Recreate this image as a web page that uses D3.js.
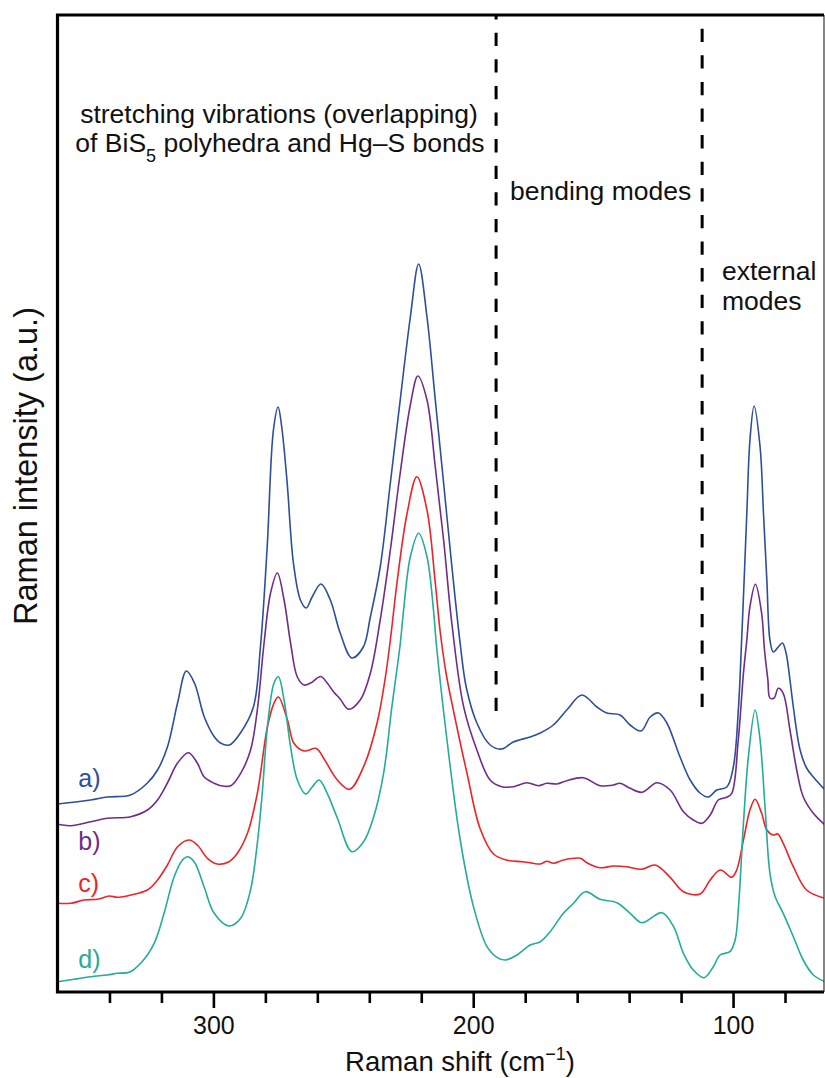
<!DOCTYPE html>
<html>
<head>
<meta charset="utf-8">
<script src="https://cdn.jsdelivr.net/npm/d3@7"></script>
<style>
  body { margin: 0; background: #fff; }
  svg { display: block; font-family: "Liberation Sans", Arial, Helvetica, sans-serif; }
</style>
</head>
<body>
<div id="chart"></div>
<script>
// Raman spectra a)-d): [wavenumber cm-1, intensity a.u.]
const spectrumA = [
  [360,188],[347.3,192],[340.8,195],[331.9,197],[325.4,209],[321.5,222],[317.7,245],[313.8,289],
  [310.4,321],[307.3,309],[303.5,275],[299.6,255],[297.3,249],[293.8,247],[289.6,259],[284.6,285],
  [281.9,345],[279.3,445],[276.9,562],[275.1,585],[273.8,567],[271.7,512],[269.2,429],[266.5,392],
  [264.3,384],[262.0,395],[258.6,408],[255.0,392],[251.2,359],[246.7,334],[242.3,345],[239.6,375],
  [235.8,425],[231.9,509],[228.1,592],[224.2,675],[221.0,728],[217.8,675],[214.6,592],[211.4,509],
  [208.2,425],[205.0,348],[202.7,305],[198.6,269],[193.5,247],[189.0,243],[184.6,250],[178.1,255],
  [174.2,259],[169.2,267],[164.0,282],[158.2,297],[152.4,285],[148.6,279],[143.5,277],[139.6,267],
  [135.4,261],[131.9,275],[128.7,279],[125.5,269],[120.4,235],[116.5,212],[112.7,199],[109.5,195],
  [106.3,202],[102.4,205],[99.9,225],[97.9,285],[96.7,352],[96.0,395],[94.7,479],[93.5,552],
  [91.9,586],[89.6,545],[88.3,479],[87.0,412],[85.8,352],[84.5,340],[82.6,345],[81.0,349],
  [79.6,339],[78.1,312],[76.8,285],[74.2,242],[71.7,224],[69.1,215],[64.6,202]
]
const spectrumB = [
  [360,167.7],[354.9,166.3],[347.2,170.3],[340.8,173.7],[331.8,175.3],[325.4,182],[321.5,192],[317.7,209],
  [313.8,229],[309.6,239.3],[306.2,229],[303.6,215.3],[299.7,208.7],[297.2,206.3],[293.3,206.3],[289.5,218.7],
  [285.7,242],[283.1,282],[280.5,349],[278.0,399],[275.4,419],[272.8,392],[270.3,349],[267.7,315],
  [265.1,307],[262.6,309],[258.7,315.5],[256.2,309],[253.7,300],[251.2,293],[248.0,282.7],[243.5,292],
  [239.6,318.7],[235.8,372],[231.9,442],[228.1,519],[224.2,587],[221.3,616],[217.8,592],[214.6,525],
  [211.4,452],[208.2,368],[203.7,285.3],[198.6,242],[193.5,212],[189.0,205.3],[184.5,205.3],[179.3,209.3],
  [174.9,206.3],[171.7,208.7],[167.8,208],[164.0,211.3],[157.6,214.3],[151.2,206.3],[146.0,207],[143.5,208.7],
  [139.6,203.7],[135.1,199.7],[129.3,209.3],[124.2,202],[119.1,180.3],[115.3,172],[112.0,168.7],[108.8,177],
  [105.7,192],[102.5,194.7],[100.5,198.7],[98.0,252],[96.0,318.7],[94.7,352],[93.5,385.3],[91.4,407.7],
  [89.0,378.7],[87.9,342],[86.6,312],[85.8,294],[84.2,294],[82.6,303.7],[80.7,298.7],[78.1,262],
  [75.5,222],[73.0,195.3],[69.1,178.7],[64.6,167]
]
const spectrumC = [
  [360,88.7],[354.9,88.7],[349.7,92],[344.6,92.7],[340.1,96],[336.9,94.7],[331.8,97],[325.4,102],
  [321.5,112],[317.7,127],[313.8,145.3],[309.3,152],[306.2,147],[302.3,133.7],[298.5,128],[294.0,130.3],
  [290.8,138.7],[286.9,158.7],[283.1,198.7],[279.2,265.3],[276.7,288.7],[275.0,295],[271.5,272],[269.0,248.7],
  [265.1,241],[260.4,243.5],[257.4,233],[252.3,212],[247.6,202.7],[242.2,225.3],[237.0,269],[233.8,315],
  [231.9,352],[229.3,410],[225.5,478],[221.7,515.3],[217.8,482],[214.6,409],[212.7,360],[210.4,318],
  [207.5,280],[202.4,218.7],[197.3,163],[192.2,138],[187.0,131.7],[180.7,130.3],[174.2,128],[171.7,130.7],
  [169.1,128.7],[165.3,132],[158.8,133.7],[156.3,129.3],[151.2,124.3],[146.0,126],[140.9,125.3],[135.1,122.7],
  [130.0,127],[124.2,114.7],[119.1,100.3],[112.7,98],[108.8,112],[104.9,122],[100.5,114.7],[98.6,122],
  [96.0,152],[93.5,182],[91.5,192.7],[89.0,178.7],[87.0,162],[84.5,157],[82.8,158],[80.7,148.7],
  [76.8,125.3],[71.7,102],[64.6,93.7]
]
const spectrumD = [
  [360,10.3],[353.6,12.7],[347.2,15.3],[340.8,17],[336.9,18.7],[332.4,19.7],[328.0,28.7],[322.8,48.7],
  [319.0,78.7],[315.1,115.3],[311.9,132],[310.0,135.3],[307.4,130.3],[303.6,105.3],[299.7,78.7],[294.0,66],
  [289.5,73.7],[285.7,102],[283.1,148.7],[281.2,198.7],[279.2,265.3],[276.7,308.7],[275.0,315.3],[272.8,292],
  [270.3,245.3],[267.7,212],[264.5,198],[261.9,205.3],[259.3,212],[256.2,198.7],[252.3,174],[246.7,140.3],
  [242.2,150.3],[238.3,175.3],[234.5,218.7],[231.3,285.3],[228.1,348],[226.8,382],[224.2,435.3],[221.0,458.7],
  [217.8,435.3],[215.3,382],[214.2,348],[210.1,252],[205.0,152],[199.9,85.3],[194.7,45.3],[190.9,34.7],
  [187.7,32],[183.2,37],[178.1,47],[174.2,50.3],[170.4,60.3],[165.3,78.7],[161.4,88.7],[156.9,100.3],
  [151.2,92.7],[144.7,89.3],[139.6,78.7],[135.1,69.3],[127.4,79.3],[122.9,65.3],[119.1,38.7],[115.3,22],
  [111.2,14.3],[107.6,25.3],[105.0,37],[101.2,40.3],[99.2,52],[97.9,85.3],[96.0,168.7],[94.1,235.3],
  [91.5,282],[89.6,252],[87.7,185.3],[85.8,118.7],[83.8,95.3],[80.7,78.7],[76.8,55.3],[73.0,32],
  [69.1,17],[64.6,10.3]
]

const seriesNames = ['a)', 'b)', 'c)', 'd)']
const seriesColors = ['#2d4e9e', '#6f2c88', '#ec2327', '#22ad98']

// region borders (cm-1) and the intensity where each dashed line stops
const dividerShift = [191.2, 111.9]
const dividerEnd = [281, 285]

const majorTicks = [300, 200, 100]
const minorTicks = [340, 320, 280, 260, 240, 220, 180, 160, 140, 120, 80]

const W = 825, H = 1078
const margin = { top: 15, right: 1, bottom: 86, left: 57.5 }
const plotW = W - margin.left - margin.right
const plotH = H - margin.top - margin.bottom

const svg = d3.select('#chart')
  .append('svg')
    .attr('width', W)
    .attr('height', H)

const x = d3.scaleLinear()
  .domain([360, 65])
  .range([margin.left, margin.left + plotW])

const y = d3.scaleLinear()
  .domain([0, 977])
  .range([margin.top + plotH, margin.top])

svg.append('clipPath')
    .attr('id', 'plotClip')
  .append('rect')
    .attr('x', margin.left)
    .attr('y', margin.top)
    .attr('width', plotW)
    .attr('height', plotH)

const line = d3.line()
  .x(d => x(d[0]))
  .y(d => y(d[1]))
  .curve(d3.curveCatmullRom.alpha(0.5))

const spectra = [spectrumA, spectrumB, spectrumC, spectrumD]

svg.append('g')
    .attr('clip-path', 'url(#plotClip)')
  .selectAll('path.spectrum')
  .data(spectra)
  .enter()
  .append('path')
    .attr('class', 'spectrum')
    .attr('d', line)
    .style('fill', 'none')
    .style('stroke', (d, i) => seriesColors[i])
    .style('stroke-width', 1.6)

// dashed region borders, drawn bottom-up so the dash phase matches
svg.selectAll('line.divider')
  .data(dividerShift)
  .enter()
  .append('line')
    .attr('class', 'divider')
    .attr('x1', d => x(d))
    .attr('x2', d => x(d))
    .attr('y1', (d, i) => y(dividerEnd[i]))
    .attr('y2', margin.top)
    .style('stroke', '#000')
    .style('stroke-width', 3)
    .style('stroke-dasharray', '13.3,13.3')

// frame
const bottomY = margin.top + plotH
svg.append('line')
  .attr('x1', margin.left + plotW).attr('x2', margin.left + plotW)
  .attr('y1', margin.top).attr('y2', bottomY)
  .style('stroke', '#333').style('stroke-width', 1.2)
svg.append('path')
  .attr('d', `M${margin.left + plotW},${margin.top}H${margin.left}V${bottomY}H${margin.left + plotW}`)
  .style('fill', 'none')
  .style('stroke', '#000')
  .style('stroke-width', 3.2)

// x axis ticks
const minorAxis = d3.axisBottom(x)
  .tickValues(minorTicks)
  .tickSize(11)
  .tickFormat('')
const majorAxis = d3.axisBottom(x)
  .tickValues(majorTicks)
  .tickSize(16)
  .tickPadding(8)
  .tickFormat(d3.format('d'))

svg.append('g')
    .attr('transform', `translate(0, ${bottomY})`)
    .call(minorAxis)
    .call(g => g.select('.domain').remove())
    .call(g => g.selectAll('line').style('stroke', '#000').style('stroke-width', 2.6))

svg.append('g')
    .attr('transform', `translate(0, ${bottomY})`)
    .call(majorAxis)
    .call(g => g.select('.domain').remove())
    .call(g => g.selectAll('line').style('stroke', '#000').style('stroke-width', 2.6))
    .call(g => g.selectAll('text')
      .style('font-family', '"Liberation Sans", Arial, sans-serif')
      .style('font-size', '25px')
      .style('fill', '#111'))

// axis titles
const xTitle = svg.append('text')
  .attr('x', 460)
  .attr('y', 1071)
  .attr('text-anchor', 'middle')
  .style('font-size', '27.5px')
  .style('fill', '#111')
xTitle.append('tspan').text('Raman shift (cm')
xTitle.append('tspan').text('\u22121').attr('dy', -11).style('font-size', '18px')
xTitle.append('tspan').text(')').attr('dy', 11)

svg.append('text')
  .attr('transform', 'translate(37, 466) rotate(-90)')
  .attr('text-anchor', 'middle')
  .style('font-size', '32.5px')
  .style('fill', '#111')
  .text('Raman intensity (a.u.)')

// region annotations
const note = svg.append('g')
  .style('font-size', '26.5px')
  .style('fill', '#111')

note.append('text')
  .attr('x', 279).attr('y', 123)
  .attr('text-anchor', 'middle')
  .text('stretching vibrations (overlapping)')

const note2 = note.append('text')
  .attr('x', 280).attr('y', 152)
  .attr('text-anchor', 'middle')
note2.append('tspan').text('of BiS')
note2.append('tspan').text('5').attr('dy', 10).style('font-size', '18px')
note2.append('tspan').text(' polyhedra and Hg\u2013S bonds').attr('dy', -10)

note.append('text')
  .attr('x', 510).attr('y', 200)
  .text('bending modes')

note.append('text')
  .attr('x', 722).attr('y', 280)
  .text('external')
note.append('text')
  .attr('x', 722).attr('y', 310)
  .text('modes')

// series labels
const labelBaselines = [205, 142, 100, 24]
svg.selectAll('text.series-label')
  .data(seriesNames)
  .enter()
  .append('text')
    .attr('class', 'series-label')
    .attr('x', x(352))
    .attr('y', (d, i) => y(labelBaselines[i]))
    .style('font-size', '25px')
    .style('fill', (d, i) => seriesColors[i])
    .text(d => d)
</script>
</body>
</html>
